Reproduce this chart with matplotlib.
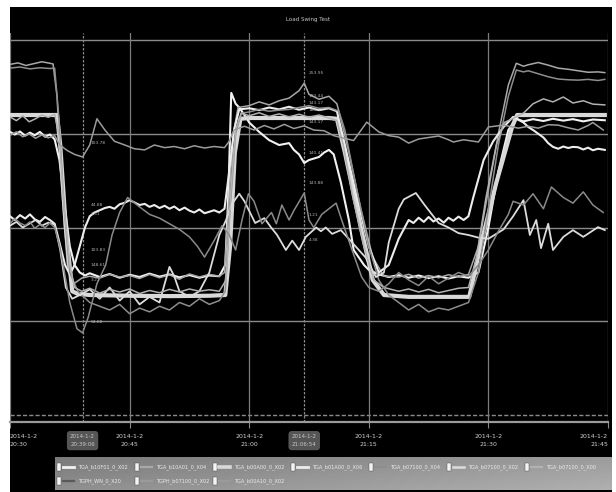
import matplotlib
matplotlib.use('Agg')
import matplotlib.pyplot as plt
import numpy as np
from matplotlib.patches import Rectangle

# time in minutes from window start, value in % of range
tick_minutes = [0, 15, 30, 45, 60, 75]
tick_labels = ['2014-1-2\n20:30', '2014-1-2\n20:45', '2014-1-2\n21:00',
               '2014-1-2\n21:15', '2014-1-2\n21:30', '2014-1-2\n21:45']
cursor_minutes = [9.1, 36.9]
cursor_labels = ['2014-1-2\n20:39:06', '2014-1-2\n21:06:54']

names = ['TGA_b10F01_0_X02', 'TGA_b10A01_0_X04', 'TGA_b00A00_0_X02',
         'TGA_b01A00_0_X06', 'TGA_b07100_0_X04', 'TGA_b07100_0_X02',
         'TGA_b07100_0_X00', 'TGPH_WN_0_X20', 'TGPH_b07100_0_X02',
         'TGA_b00A10_0_X02']

s_e = [(0,75.5),(0.6,74.8),(1.25,75.6),(1.9,74.5),(2.5,75.3),(3.1,74.6),(3.75,75.5),(4.4,74.2),(5,74.8),(5.6,73.5),
       (6.2,68),(6.9,55),(7.5,45),(8.1,40),(8.75,38),(9.4,37.2),(10,37.8),(11.25,36.8),(12.5,37.6),(13.75,36.6),
       (15,37.4),(16.25,36.8),(17.5,37.7),(18.75,36.9),(20,37.5),(21.25,36.7),(22.5,37.3),(23.75,36.6),(25,37.2),
       (26.25,37),(27,40),(27.4,60),(27.75,85.9),(28.3,83),(28.75,82),(29.4,80),(30,78),(31.25,75.5),(32.5,73.3),
       (33.75,72),(35,72.5),(35.6,70.7),(36.25,69.5),(36.9,67.2),(37.5,68),(38.75,68.8),(39.4,70),(40,70.7),
       (40.6,69.5),(41.5,62),(42.5,52),(43.1,44),(44.4,40),(45,38.7),(46.25,37.5),(47.5,36.8),(48.75,37.3),
       (50,36.6),(51.25,37.2),(52.5,36.5),(53.75,37),(55,36.4),(56.25,37),(57.5,36.6),(58.75,38),(60,50),
       (61.25,65),(62.5,76),(63.5,79),(64.4,78.3),(65.6,78.9),(66.9,78.4),(68.1,79),(69.4,78.5),(70.6,78.9),
       (71.9,78.3),(73.1,78.8),(74.6,78.6)]

s_a = [(0,93.5),(1,93.9),(2,93.2),(3,93.7),(4,94.2),(5,93.8),(5.4,93.6),(5.9,85),(6.5,60),(7.2,40),(8,35),
       (9,36.5),(10,37),(11.25,36.5),(12.5,37.5),(13.75,36.8),(15,37.2),(16.25,36.4),(17.5,37.5),(18.75,36.6),
       (20,37.4),(21.25,36.2),(22.5,37.6),(23.75,36.8),(25,37.5),(26.25,37),(26.9,38),(27.4,55),(28,75),
       (28.6,82),(30,82.5),(31.25,83.5),(32.5,82.7),(33.75,83.8),(35,84.5),(36.25,86.5),(36.9,88.5),(37.5,85.5),
       (38.75,84.2),(40,85),(41,83),(41.6,78),(42.5,70),(44,55),(45.5,42),(46.9,37),(48.75,36.8),(50,37.5),
       (51.25,36.5),(52.5,37.2),(53.75,36.6),(55,37.4),(56.25,36.8),(57.5,37.5),(58.75,45),(60,60),(61.25,75),
       (62.5,88),(63.5,93.8),(64.4,93),(65,93.4),(66.25,94),(67.5,93.3),(68.75,92.5),(70,92.2),(71.25,91.8),
       (72.5,91.4),(73.75,91.5),(74.6,91.3)]

s_thick = [(0,80),(5.9,80),(6.3,72),(7.0,50),(7.8,33),(8.5,32.3),(10,32),(15,31.8),(20,31.7),(25,31.8),
           (27.0,32),(27.6,45),(28.2,70),(28.9,79),(30,79.2),(35,79.2),(40,79.2),(41.0,79),(42,70),(44,50),
           (45.5,36),(46.9,32),(50,31.5),(55,31.5),(57.6,31.5),(59,45),(61,62),(63,77),(63.6,80),(66,80),
           (70,80),(74.6,80)]

s_f = [(0,53),(0.6,52),(1.25,53.3),(1.9,52.4),(2.5,53.5),(3.1,52.2),(3.75,51.5),(4.4,52.8),(5,52),(5.6,51),
       (6.2,46),(6.9,40),(7.5,37.5),(8.1,40),(8.75,45),(9.4,50),(10,53),(10.6,54),(11.25,54.6),(11.9,55.2),
       (12.5,55.5),(13.1,55),(13.75,56.2),(14.4,56.6),(15,57.3),(15.6,56.7),(16.25,56),(16.9,56.3),(17.5,55.5),
       (18.1,56),(18.75,55.2),(19.4,55.8),(20,55),(20.6,55.6),(21.25,54.6),(21.9,55.3),(22.5,54.5),(23.1,54),
       (23.75,54.8),(24.4,53.8),(25,54.2),(25.6,54.6),(26.25,54),(26.9,55),(27.5,65),(28.1,76),(28.75,81.5),
       (30,81.8),(31.25,81.3),(32.5,82),(33.75,81.5),(35,82.2),(36.25,81.4),(37.5,82),(38.75,81.3),(40,81.8),
       (41,81),(42,72),(43.5,58),(45,45),(46.25,38),(47.5,40),(48.75,47),(50,52),(50.6,51.2),(51.25,52.6),
       (51.9,51.5),(52.5,52.8),(53.1,51.6),(53.75,52.4),(54.4,51.3),(55,52.6),(55.6,51.8),(56.25,52.9),(56.9,52),
       (57.5,53),(58.1,58),(59.4,68),(60.6,73),(61.9,76.8),(63.1,79.5),(64.4,78),(65,76.8),(65.6,76),(66.9,74),
       (67.5,72.5),(68.1,71.5),(68.75,71),(69.4,71.6),(70,71.2),(70.6,71.5),(71.25,71.4),(71.9,70.8),(72.5,71.3),
       (73.1,70.6),(73.75,71),(74.6,70.7)]

s_b = [(0,92.5),(1.25,92.8),(2.5,92.3),(3.75,92.6),(5,92.4),(5.6,92.5),(6.1,80),(6.8,55),(7.5,38),(8.5,33),
       (10,30),(11.25,29),(12.5,28),(13.75,29.5),(15,27),(16.25,28.5),(17.5,27.5),(18.75,29),(20,28),(21.25,30),
       (22.5,29),(23.75,31),(25,29.5),(26.25,30.5),(27,33),(27.6,55),(28.3,75),(29,80.5),(30,80.8),(31.25,81.5),
       (32.5,81),(33.75,81.3),(35,81.5),(36.25,82),(37.5,82.5),(38.75,81.8),(40,82),(41.25,81),(42,76),(43.5,60),
       (45,45),(46.25,36),(47.5,32),(48.75,30),(50,28),(51.25,29.5),(52.5,27.5),(53.75,28.5),(55,28),(56.25,29),
       (57.5,30),(58.75,38),(60,55),(61.25,72),(62.5,85),(63.5,92),(64.4,91.5),(65,91.8),(66.25,91),(67.5,90.2),
       (68.75,89.6),(70,89.4),(71.25,89.3),(72.5,89.5),(73.75,89.2),(74.6,89.5)]

s_w2 = [(0,50.5),(0.8,51.5),(1.6,50),(2.4,51),(3.2,52),(4,50.5),(4.8,51.3),(5.6,50.8),(6.3,44),(7,34),(7.8,31),
        (8.75,32),(10,33.5),(11.25,31),(12.5,34),(13.75,30.5),(15,33),(16.25,29.5),(17.5,31.5),(18.75,30),
        (19.4,35),(20,39.5),(20.6,37),(21.25,33),(22.5,31.5),(23.75,33),(25,38),(26.25,48),(27.1,52),(27.75,56),
        (28.75,59),(29.4,57),(30.75,51.2),(31.9,52.5),(32.75,50),(33.5,48),(34.6,44),(35.4,46.5),(36.25,44),
        (37.1,47.5),(38.4,50),(39,49),(39.6,50),(40.4,48.3),(41.5,49.3),(42.9,46),(44.6,42),(45.9,36.8),(46.9,38),
        (47.5,46),(48.75,55),(49.4,57.5),(50.9,59.2),(52,56),(53.75,51.2),(55,50),(56.25,48.5),(57.5,48),
        (58.75,47.3),(60,47),(61.9,49.5),(63.1,53),(64.4,57.3),(65.2,48),(66,52),(66.6,44.5),(67.5,51),(68.1,44),
        (69.4,47.5),(70.6,49.3),(71.9,47.5),(73.75,50.1),(74.6,49.3)]

s_c = [(0,79.5),(0.8,78.5),(1.6,79.8),(2.4,78.2),(3.2,79),(4,80),(4.8,79.4),(5.6,80.2),(6.2,74),(6.8,55),
       (7.5,40),(8.1,34),(9,33),(10,33.8),(11.25,32.5),(12.5,33.5),(13.75,32.8),(15,33.6),(16.25,32.4),(17.5,33.2),
       (18.75,32.6),(20,33.5),(21.25,32.8),(22.5,33.6),(23.75,33),(25,33.4),(26.25,33),(27.1,36),(27.7,60),
       (28.3,76),(29,80.5),(30,79.8),(31.25,80.6),(32.5,79.6),(33.75,80.3),(35,79.5),(36.25,80.2),(37.5,79.4),
       (38.75,80),(40,79.2),(41,78.5),(41.8,72),(43,58),(44.4,45),(45.6,36),(46.9,34),(48.75,33),(50,33.6),
       (51.25,32.8),(52.5,33.5),(53.75,32.6),(55,33.2),(56.25,33.8),(57.5,34),(58.5,42),(59.7,58),(61,72),(62,78),
       (63,79),(64.4,80.5),(65.6,83),(66.9,84.3),(68.1,83.5),(69.4,84.8),(70.6,83.2),(71.9,83.8),(73.1,82.9),
       (74.6,82.7)]

s_g = [(0,51),(0.6,52.4),(1.25,51.2),(1.9,50.5),(2.5,51.5),(3.1,49.8),(3.75,50.8),(4.4,50),(5,51.2),(5.6,50),
       (6.25,45),(7.5,30),(8.4,23),(9.1,21.9),(9.8,26),(10.9,35),(12,40),(12.8,48),(13.75,54),(14.75,58),
       (16.25,55.5),(17.5,53.5),(18.75,52.5),(20,51),(21.25,49.5),(22.5,47.5),(23.5,45),(24.4,42.1),(25.6,46.5),
       (26.6,50.5),(27.5,48),(28.3,44),(29.1,52),(29.9,59),(30.6,57),(31.6,51),(32.8,54),(33.4,51),(34.1,56),
       (35,52),(35.6,54.5),(36.9,59.2),(37.5,52),(38.1,50),(39.1,53.5),(40.9,56.5),(41.6,52),(42.9,44),(44.1,36.8),
       (45,34),(46.25,33),(47.5,35),(48.75,38),(50,36),(51.25,34.5),(52.5,37),(53.75,35),(55,36.5),(56.25,38),
       (57.5,37),(58.75,40),(60,44),(61.25,49),(62.5,53.5),(63.1,57),(64.4,56),(65.6,59),(66.9,55),(67.9,60.8),
       (69.4,58),(70.6,56.5),(71.9,59.5),(73.1,56),(74.4,54)]

s_d = [(0,74.6),(0.8,75.5),(1.6,74.2),(2.4,75),(3.2,73.8),(4,74.7),(4.8,73.9),(5.6,74.5),(6.25,72),(7.2,70.5),
       (8.1,69.5),(9.1,68.8),(10,72),(10.9,79),(11.9,76),(13.1,73),(14.4,72),(15.6,71),(16.9,70.7),(18.1,72),
       (19.4,71.3),(20.6,71.6),(21.9,71),(23.1,71.8),(24.4,71.2),(25.6,71.6),(26.9,71.3),(27.5,73),(28.1,76),
       (29.4,77),(30.6,76),(31.9,77.2),(33.1,76.3),(34.4,77.5),(35.6,76.4),(36.9,77.1),(38.1,76),(39.4,75.8),
       (40.6,74.5),(41.9,73.8),(43.1,73.2),(44.75,78.1),(46.25,75.5),(47.5,74.5),(48.75,74.1),(50,72.5),
       (51.25,73.6),(52.5,74),(53.75,74.4),(55,73.4),(55.6,72.8),(56.9,73.4),(58.75,72.8),(60,76.8),(61.9,77.3),
       (63.75,76.5),(65,77),(66.25,76.5),(67.5,77.4),(68.75,77.3),(70,76.6),(71.25,76),(72.5,77.2),(73.1,78),
       (74.4,76)]

series = [s_e, s_a, s_thick, s_f, s_b, s_w2, s_c, s_g, s_d, None]
colors = ['#f2f2f2', '#a8a8a8', '#d9d9d9', '#ededed', '#8e8e8e', '#dcdcdc', '#b2b2b2', '#5a5a5a', '#9a9a9a', '#9a9a9a']
widths = [1.5, 1.1, 3.0, 1.5, 1.1, 1.3, 1.1, 1.1, 1.1, 1.1]
line_colors = ['#f2f2f2', '#a8a8a8', '#d9d9d9', '#ededed', '#8e8e8e', '#dcdcdc', '#b2b2b2', '#8a8a8a', '#9c9c9c', None]

# cursor readouts
readout1_vals = ['103.78', '44.88', '1.61', '103.83', '148.61', '3.21', '94.88']
readout1_pos = [72.5, 56.0, 53.6, 44.0, 40.0, 36.0, 24.8]
readout2_vals = ['253.95', '193.44', '143.17', '188.41', '143.17', '140.41', '143.88', '1.21', '4.38']
readout2_pos = [91.2, 85.0, 83.2, 81.3, 78.1, 69.9, 61.9, 53.3, 46.7]

W, H = 616, 492
fig = plt.figure(figsize=(W / 100, H / 100), dpi=100, facecolor='white')
fig.patches.append(Rectangle((10 / W, 0), 602 / W, 485 / H, transform=fig.transFigure,
                             facecolor='black', edgecolor='none', zorder=-10))

ax = fig.add_axes([10 / W, 70 / H, 598 / W, 389 / H])
ax.set_facecolor('black')
ax.set_xlim(0, 75)
ax.set_ylim(-1.87, 101.87)

for y in [25, 50, 75, 100]:
    ax.axhline(y, color='#8a8a8a', lw=1.0, zorder=1)
ax.axhline(0, color='#8a8a8a', lw=1.0, ls=(0, (3, 1.5)), zorder=1)
for x in tick_minutes:
    ax.axvline(x, color='#7c7c7c', lw=0.9, zorder=1)
for x in cursor_minutes:
    ax.axvline(x, color='#8a8a8a', lw=0.9, ls=(0, (2, 1.2)), zorder=1)

for s, c, lw in zip(series, line_colors, widths):
    if s is None or c is None:
        continue
    t = [p[0] for p in s]
    v = [p[1] for p in s]
    ax.plot(t, v, color=c, lw=lw, zorder=3)

for txt, v in zip(readout1_vals, readout1_pos):
    ax.text(cursor_minutes[0] + 1.0, v, txt, color='#b0b0b0', fontsize=3.2, va='center', zorder=4)
for txt, v in zip(readout2_vals, readout2_pos):
    ax.text(cursor_minutes[1] + 0.6, v, txt, color='#b0b0b0', fontsize=3.2, va='center', zorder=4)

for sp in ['top', 'left', 'right']:
    ax.spines[sp].set_visible(False)
ax.spines['bottom'].set_color('#9a9a9a')
ax.spines['bottom'].set_linewidth(1.6)
ax.set_yticks([])
ax.set_xticks(tick_minutes)
ax.set_xticklabels(tick_labels, fontsize=4.5, color='#d0d0d0', linespacing=1.7)
ax.tick_params(axis='x', colors='#8a8a8a', length=4, width=0.8, pad=5, labelcolor='#d0d0d0')
xt = ax.get_xticklabels()
xt[0].set_ha('left')
xt[-1].set_ha('right')

tr = ax.get_xaxis_transform()
for x, lab in zip(cursor_minutes, cursor_labels):
    ax.text(x, -0.048, lab, transform=tr, ha='center', va='center', fontsize=4.0, color='#c8c8c8',
            linespacing=1.7, bbox=dict(boxstyle='round,pad=0.5', facecolor='#555555', edgecolor='#666666', lw=0.5),
            clip_on=False)

fig.text(308 / W, 1 - 20 / H, 'Load Swing Test', ha='center', va='center', fontsize=4, color='#c8c8c8')

# legend panel
lax = fig.add_axes([55 / W, 2 / H, 557 / W, 33 / H])
lax.set_xlim(55, 612)
lax.set_ylim(490, 457)
gx = np.linspace(0, 1, 200)
gy = np.linspace(0, 1, 20)
grad = 0.48 + 0.13 * gx[None, :] + 0.08 * gy[:, None]
lax.imshow(grad, cmap='gray', vmin=0, vmax=1, extent=[55, 612, 490, 457], aspect='auto', zorder=0)
lax.set_axis_off()
for i, name in enumerate(names):
    row, col = divmod(i, 7)
    x0 = 59 + 78 * col
    y0 = 467 + 14 * row
    lax.add_patch(Rectangle((x0 - 2, y0 - 4), 4, 8, facecolor='#f4f4f4', edgecolor='#444444', lw=0.3, zorder=2))
    lax.plot([x0 + 4, x0 + 15], [y0, y0], color=colors[i], lw=min(widths[i] + 0.5, 2.6), zorder=2)
    lax.text(x0 + 19, y0, name, fontsize=3.6, color='#ececec', va='center', ha='left', zorder=3)

plt.savefig('out.png', dpi=100, facecolor='white')
